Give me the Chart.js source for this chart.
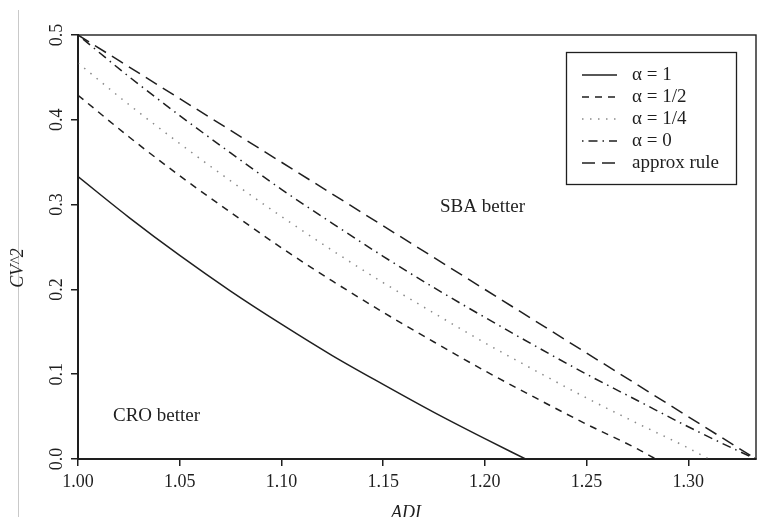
<!DOCTYPE html>
<html>
<head>
<meta charset="utf-8">
<script src="https://cdn.jsdelivr.net/npm/chart.js@4.4.1/dist/chart.umd.min.js"></script>
<style>
  html, body { margin: 0; padding: 0; background: #fff; }
  #wrap { width: 784px; height: 517px; }
</style>
</head>
<body>
<div id="wrap"><canvas id="cutoffChart" width="784" height="517"></canvas></div>
<script>
// ADI / CV^2 break-even curves between Croston and SBA
const adiAlpha1 = [1.000, 1.025, 1.050, 1.075, 1.100, 1.125, 1.150, 1.175, 1.200, 1.220];
const cvAlpha1 = [0.333, 0.285, 0.240, 0.198, 0.159, 0.122, 0.088, 0.055, 0.024, 0.000];

const adiAlphaHalf = [1.000, 1.025, 1.050, 1.075, 1.100, 1.125, 1.150, 1.175, 1.200, 1.225, 1.250, 1.275, 1.284];
const cvAlphaHalf = [0.429, 0.380, 0.334, 0.291, 0.249, 0.210, 0.173, 0.138, 0.104, 0.072, 0.041, 0.012, 0.000];

const adiAlphaQuarter = [1.000, 1.025, 1.050, 1.075, 1.100, 1.125, 1.150, 1.175, 1.200, 1.225, 1.250, 1.275, 1.300, 1.310];
const cvAlphaQuarter = [0.467, 0.418, 0.372, 0.328, 0.286, 0.246, 0.208, 0.172, 0.137, 0.104, 0.072, 0.042, 0.013, 0.000];

const adiAlphaZero = [1.000, 1.025, 1.050, 1.075, 1.100, 1.125, 1.150, 1.175, 1.200, 1.225, 1.250, 1.275, 1.300, 1.325, 1.3333];
const cvAlphaZero = [0.500, 0.451, 0.405, 0.361, 0.318, 0.278, 0.239, 0.202, 0.167, 0.133, 0.100, 0.069, 0.038, 0.009, 0.000];

const adiApprox = [1.000, 1.3333];
const cvApprox = [0.500, 0.000];

const xTicks = [1.0, 1.05, 1.1, 1.15, 1.2, 1.25, 1.3];
const xTickLabels = ["1.00", "1.05", "1.10", "1.15", "1.20", "1.25", "1.30"];
const yTicks = [0, 0.1, 0.2, 0.3, 0.4, 0.5];
const yTickLabels = ["0.0", "0.1", "0.2", "0.3", "0.4", "0.5"];

const ink = "#1f1f1f";
const serif = '"Liberation Serif", "DejaVu Serif", serif';

function points(xs, ys) {
  return xs.map((x, i) => ({ x, y: ys[i] }));
}

function curve(label, xs, ys, style) {
  return Object.assign(
    {
      label,
      data: points(xs, ys),
      borderColor: ink,
      borderWidth: 1.5,
      borderDash: [],
      pointRadius: 0,
      fill: false,
      cubicInterpolationMode: "monotone",
    },
    style,
  );
}

// frame, rotated y labels, axis titles, legend box and region notes
const decorations = {
  id: "decorations",
  afterDraw(chart) {
    const { ctx, chartArea: a, scales } = chart;
    ctx.save();

    ctx.strokeStyle = "#c9c9c9";
    ctx.lineWidth = 1;
    ctx.beginPath();
    ctx.moveTo(18.5, 10);
    ctx.lineTo(18.5, 517);
    ctx.stroke();

    ctx.strokeStyle = ink;
    ctx.lineWidth = 1.4;
    ctx.strokeRect(a.left, a.top, a.right - a.left, a.bottom - a.top);

    ctx.fillStyle = ink;
    ctx.font = `18px ${serif}`;
    ctx.textAlign = "center";
    ctx.textBaseline = "middle";
    yTicks.forEach((v, i) => {
      ctx.save();
      ctx.translate(a.left - 21, scales.y.getPixelForValue(v));
      ctx.rotate(-Math.PI / 2);
      ctx.fillText(yTickLabels[i], 0, 0);
      ctx.restore();
    });

    ctx.font = `italic 18px ${serif}`;
    ctx.save();
    ctx.translate(18, 268);
    ctx.rotate(-Math.PI / 2);
    ctx.fillText("CV^2", 0, 0);
    ctx.restore();
    ctx.textBaseline = "alphabetic";
    ctx.fillText("ADI", 406, 518);

    ctx.font = `19px ${serif}`;
    ctx.textAlign = "left";
    ctx.textBaseline = "middle";
    ctx.fillText("SBA better", 440, 207);
    ctx.fillText("CRO better", 113, 416);

    // legend
    ctx.strokeStyle = ink;
    ctx.lineWidth = 1.3;
    ctx.setLineDash([]);
    ctx.strokeRect(566.5, 52.5, 170, 132);
    chart.data.datasets.forEach((ds, i) => {
      const y = 75 + i * 22;
      ctx.save();
      ctx.strokeStyle = ds.borderColor;
      ctx.lineWidth = ds.borderWidth;
      ctx.setLineDash(ds.borderDash);
      ctx.beginPath();
      ctx.moveTo(582, y);
      ctx.lineTo(617, y);
      ctx.stroke();
      ctx.restore();
      ctx.fillText(ds.label, 632, y);
    });

    ctx.restore();
  },
};

new Chart(document.getElementById("cutoffChart"), {
  type: "line",
  data: {
    datasets: [
      curve("α = 1", adiAlpha1, cvAlpha1, {}),
      curve("α = 1/2", adiAlphaHalf, cvAlphaHalf, { borderDash: [7, 6] }),
      curve("α = 1/4", adiAlphaQuarter, cvAlphaQuarter, { borderDash: [1.5, 6.5], borderColor: "#8a8a8a", borderWidth: 1.5 }),
      curve("α = 0", adiAlphaZero, cvAlphaZero, { borderDash: [1.5, 5, 9, 5] }),
      curve("approx rule", adiApprox, cvApprox, { borderDash: [13, 7] }),
    ],
  },
  options: {
    responsive: false,
    devicePixelRatio: 1,
    animation: false,
    layout: { padding: { top: 35, right: 28, left: 0, bottom: 0 } },
    plugins: { legend: { display: false }, tooltip: { enabled: false } },
    scales: {
      x: {
        type: "linear",
        min: 1,
        max: 1.3333,
        afterBuildTicks: (s) => { s.ticks = xTicks.map((value) => ({ value })); },
        afterFit: (s) => { s.height = 58; },
        grid: { drawOnChartArea: false, drawTicks: true, tickLength: 7, color: ink, lineWidth: 1.5 },
        border: { display: true, color: ink, width: 2 },
        ticks: {
          autoSkip: false,
          maxRotation: 0,
          padding: 5,
          color: ink,
          font: { family: serif, size: 18 },
          callback: (value, i) => xTickLabels[i],
        },
      },
      y: {
        type: "linear",
        min: 0,
        max: 0.5,
        afterBuildTicks: (s) => { s.ticks = yTicks.map((value) => ({ value })); },
        afterFit: (s) => { s.width = 78; },
        grid: { drawOnChartArea: false, drawTicks: true, tickLength: 7, color: ink, lineWidth: 1.5 },
        border: { display: true, color: ink, width: 2 },
        ticks: { display: false },
      },
    },
  },
  plugins: [decorations],
});
</script>
</body>
</html>
